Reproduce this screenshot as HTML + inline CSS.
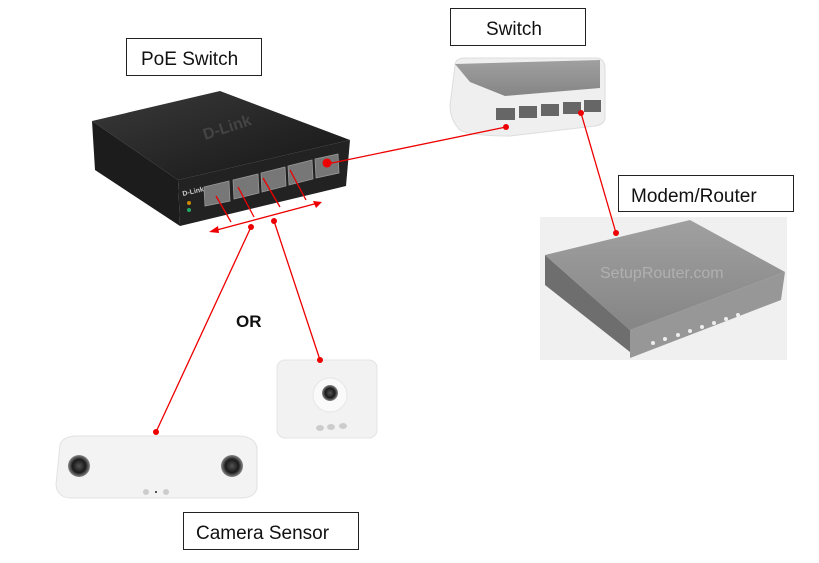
<!DOCTYPE html>
<html><head><style>
html,body{margin:0;padding:0;background:#fff;width:819px;height:563px;overflow:hidden}
svg{display:block}
text{font-family:"Liberation Sans",sans-serif}
</style></head><body>
<svg width="819" height="563" viewBox="0 0 819 563" xmlns="http://www.w3.org/2000/svg">
<defs>
<linearGradient id="top" x1="0" y1="0" x2="1" y2="1"><stop offset="0" stop-color="#3a3a3a"/><stop offset="1" stop-color="#151515"/></linearGradient>
<linearGradient id="rt" x1="0" y1="0" x2="0" y2="1"><stop offset="0" stop-color="#a0a0a0"/><stop offset="1" stop-color="#858585"/></linearGradient>
<radialGradient id="lens"><stop offset="0" stop-color="#555"/><stop offset="0.6" stop-color="#1a1a1a"/><stop offset="1" stop-color="#888"/></radialGradient>
</defs>

<!-- PoE switch -->
<polygon points="92,121 220,91 350,140 178,180" fill="url(#top)"/>
<polygon points="92,121 178,180 180,226 95,170" fill="#1c1c1c"/>
<polygon points="178,180 350,140 346,186 180,226" fill="#222"/>
<text x="205" y="140" fill="#444" font-size="16" font-weight="bold" transform="rotate(-18 205 140)">D-Link</text>
<text x="183" y="196" fill="#ccc" font-size="7" font-weight="bold" transform="rotate(-13 183 196)">D-Link</text>
<g fill="#777" stroke="#999" stroke-width="0.8">
<polygon points="204,187 229,181 230,201 205,206"/>
<polygon points="233,180 258,174 259,193 234,199"/>
<polygon points="261,173 285,167 286,186 262,192"/>
<polygon points="288,166 312,160 313,179 289,185"/>
<polygon points="315,159 338,154 339,173 316,178"/>
</g>
<circle cx="189" cy="203" r="2" fill="#c80"/><circle cx="189" cy="210" r="2" fill="#2a6"/>

<!-- white switch -->
<path d="M455,66 Q455,58 465,58 L598,58 Q605,60 605,68 L605,118 Q604,125 595,126 L510,136 Q470,136 460,130 Q450,120 450,105 Z" fill="#efefef" stroke="#ddd"/>
<polygon points="455,64 600,60 600,88 505,96 470,82" fill="url(#rt)"/>
<g fill="#666">
<rect x="496" y="108" width="19" height="12"/><rect x="519" y="106" width="18" height="12"/>
<rect x="541" y="104" width="18" height="12"/><rect x="563" y="102" width="18" height="12"/><rect x="584" y="100" width="17" height="12"/>
</g>

<!-- router -->
<rect x="540" y="217" width="247" height="143" fill="#f0f0f0"/>
<polygon points="545,285 630,352 630,330 545,255" fill="#6e6e6e"/>
<polygon points="630,330 785,272 781,300 630,358" fill="#979797"/>
<polygon points="545,255 690,220 785,272 630,330" fill="url(#rt)"/>
<text x="600" y="278" fill="#b0b0b0" font-size="16" font-family="Liberation Serif">SetupRouter.com</text>
<g fill="#eee"><circle cx="653" cy="343" r="2"/><circle cx="665" cy="339" r="2"/><circle cx="678" cy="335" r="2"/><circle cx="690" cy="331" r="2"/><circle cx="702" cy="327" r="2"/><circle cx="714" cy="323" r="2"/><circle cx="726" cy="319" r="2"/><circle cx="738" cy="315" r="2"/></g>

<!-- small camera -->
<rect x="277" y="360" width="100" height="78" rx="8" fill="#f2f2f2" stroke="#e4e4e4"/>
<circle cx="330" cy="395" r="17" fill="#fafafa" stroke="#e6e6e6"/>
<circle cx="330" cy="393" r="8" fill="url(#lens)"/>
<g fill="#ccc"><ellipse cx="320" cy="428" rx="4" ry="3"/><ellipse cx="331" cy="427" rx="4" ry="3"/><ellipse cx="343" cy="426" rx="4" ry="3"/></g>

<!-- stereo camera -->
<path d="M60,445 Q62,437 75,436 L240,436 Q255,437 257,448 L257,488 Q255,498 240,498 L70,498 Q57,497 56,485 Z" fill="#f3f3f3" stroke="#e2e2e2"/>
<circle cx="79" cy="466" r="11" fill="url(#lens)"/>
<circle cx="232" cy="466" r="11" fill="url(#lens)"/>
<circle cx="146" cy="492" r="3" fill="#ccc"/><circle cx="166" cy="492" r="3" fill="#ccc"/><circle cx="156" cy="492" r="1" fill="#222"/>

<!-- red connectors -->
<g stroke="#e00" stroke-width="1.3" fill="none">
<line x1="327" y1="164" x2="506" y2="127"/>
<line x1="581" y1="113" x2="616" y2="233"/>
<line x1="213" y1="231" x2="318" y2="203"/>
<line x1="216" y1="196" x2="231" y2="222"/>
<line x1="238" y1="187" x2="254" y2="217"/>
<line x1="263" y1="178" x2="280" y2="207"/>
<line x1="290" y1="170" x2="306" y2="200"/>
<line x1="251" y1="227" x2="156" y2="432"/>
<line x1="274" y1="221" x2="320" y2="360"/>
</g>
<polygon points="209,232 218,226 219,233" fill="#e00"/>
<polygon points="322,202 313,201 316,208" fill="#e00"/>
<g fill="#e00">
<circle cx="327" cy="163" r="4.5"/><circle cx="506" cy="127" r="3"/><circle cx="581" cy="113" r="3"/>
<circle cx="616" cy="233" r="3"/><circle cx="251" cy="227" r="3"/><circle cx="274" cy="221" r="3"/>
<circle cx="156" cy="432" r="3"/><circle cx="320" cy="360" r="3"/>
</g>

<!-- labels -->
<g fill="#fff" stroke="#222" stroke-width="1">
<rect x="126.5" y="38.5" width="135" height="37"/>
<rect x="450.5" y="8.5" width="135" height="37"/>
<rect x="618.5" y="175.5" width="175" height="36"/>
<rect x="183.5" y="512.5" width="175" height="37"/>
</g>
<g fill="#111" font-size="19">
<text x="141" y="65">PoE Switch</text>
<text x="486" y="35">Switch</text>
<text x="631" y="202">Modem/Router</text>
<text x="196" y="539">Camera Sensor</text>
</g>
<text x="236" y="327" font-size="17" font-weight="bold" fill="#111">OR</text>
</svg>
</body></html>
